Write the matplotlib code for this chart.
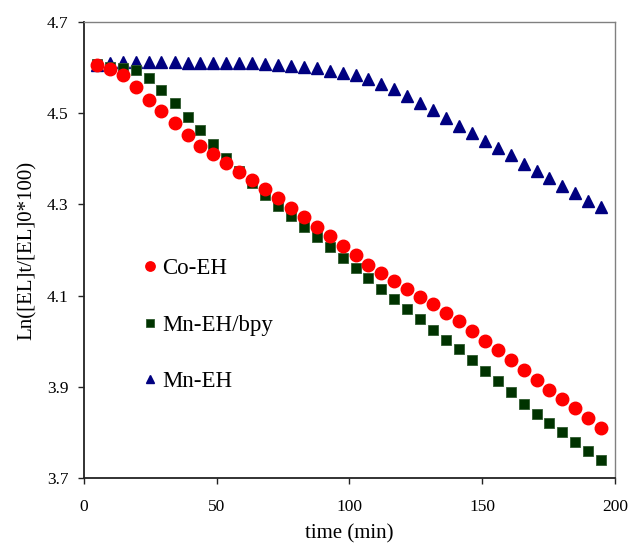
import matplotlib.pyplot as plt
import matplotlib

matplotlib.rcParams['font.family'] = ['Liberation Serif', 'DejaVu Serif']

# sampling times (min)
time_min = [4.9, 9.7, 14.6, 19.5, 24.4, 29.2, 34.1, 39.0, 43.8, 48.7,
            53.6, 58.4, 63.3, 68.2, 73.1, 77.9, 82.8, 87.7, 92.5, 97.4,
            102.3, 107.1, 112.0, 116.9, 121.8, 126.6, 131.5, 136.4, 141.2, 146.1,
            151.0, 155.8, 160.7, 165.6, 170.5, 175.3, 180.2, 185.1, 189.9, 194.8]

# Ln([EL]t/[EL]0*100) for each catalyst
co_eh = [4.605, 4.597, 4.583, 4.556, 4.529, 4.505, 4.479, 4.452, 4.428, 4.410,
         4.391, 4.371, 4.354, 4.334, 4.313, 4.293, 4.272, 4.251, 4.230, 4.209,
         4.188, 4.167, 4.150, 4.131, 4.114, 4.097, 4.081, 4.061, 4.044, 4.023,
         4.001, 3.982, 3.959, 3.937, 3.915, 3.893, 3.874, 3.853, 3.832, 3.811]
mn_eh_bpy = [4.607, 4.600, 4.598, 4.594, 4.576, 4.550, 4.523, 4.492, 4.463, 4.432,
             4.401, 4.374, 4.347, 4.320, 4.297, 4.274, 4.251, 4.228, 4.206, 4.182,
             4.160, 4.138, 4.115, 4.092, 4.070, 4.048, 4.025, 4.003, 3.983, 3.959,
             3.936, 3.912, 3.888, 3.863, 3.841, 3.820, 3.801, 3.780, 3.760, 3.740]
mn_eh = [4.605, 4.609, 4.611, 4.611, 4.611, 4.611, 4.611, 4.610, 4.610, 4.610,
         4.610, 4.609, 4.609, 4.608, 4.606, 4.604, 4.601, 4.598, 4.593, 4.588,
         4.583, 4.574, 4.564, 4.552, 4.537, 4.522, 4.506, 4.489, 4.472, 4.456,
         4.439, 4.423, 4.407, 4.389, 4.373, 4.357, 4.340, 4.324, 4.308, 4.294]

x_ticks = [0, 50, 100, 150, 200]
y_ticks = [3.7, 3.9, 4.1, 4.3, 4.5, 4.7]

fig = plt.figure(figsize=(6.29, 5.44), dpi=100)
ax = fig.add_axes([0.1335, 0.1208, 0.8442, 0.8393])

ax.plot(time_min, mn_eh, linestyle='none', marker='^', markersize=8,
        color='#000080', label='Mn-EH')
ax.plot(time_min, mn_eh_bpy, linestyle='none', marker='s', markersize=7.2,
        color='#003300', markeredgecolor='#2f5a2f', markeredgewidth=0.6, label='Mn-EH/bpy')
ax.plot(time_min, co_eh, linestyle='none', marker='o', markersize=9,
        color='#ff0000', label='Co-EH')

ax.set_xlim(0, 200)
ax.set_ylim(3.7, 4.7)
ax.set_xticks(x_ticks)
ax.set_yticks(y_ticks)
ax.set_yticklabels(['%.1f' % v for v in y_ticks])
ax.tick_params(direction='out', length=4.5, width=1, labelsize=12.5, color='#222222')
ax.tick_params(axis='y', pad=6.5)
ax.tick_params(axis='x', pad=10.5)

for side in ['left', 'bottom']:
    ax.spines[side].set_color('#222222')
    ax.spines[side].set_linewidth(1.3)
for side in ['top', 'right']:
    ax.spines[side].set_color('#808080')
    ax.spines[side].set_linewidth(1.0)

ax.set_xlabel('time (min)', fontsize=15, labelpad=6.5)
ax.set_ylabel('Ln([EL]t/[EL]0*100)', fontsize=15, labelpad=7)

handles, labels = ax.get_legend_handles_labels()
order = [2, 1, 0]
ax.legend([handles[i] for i in order], [labels[i] for i in order],
          loc='center left', bbox_to_anchor=(0.1026, 0.3354), frameon=False,
          numpoints=1, markerscale=0.75, handlelength=1.0, handletextpad=0.05,
          borderpad=0, borderaxespad=0, labelspacing=1.54, fontsize=16.5)

plt.savefig('out.png', dpi=100)
